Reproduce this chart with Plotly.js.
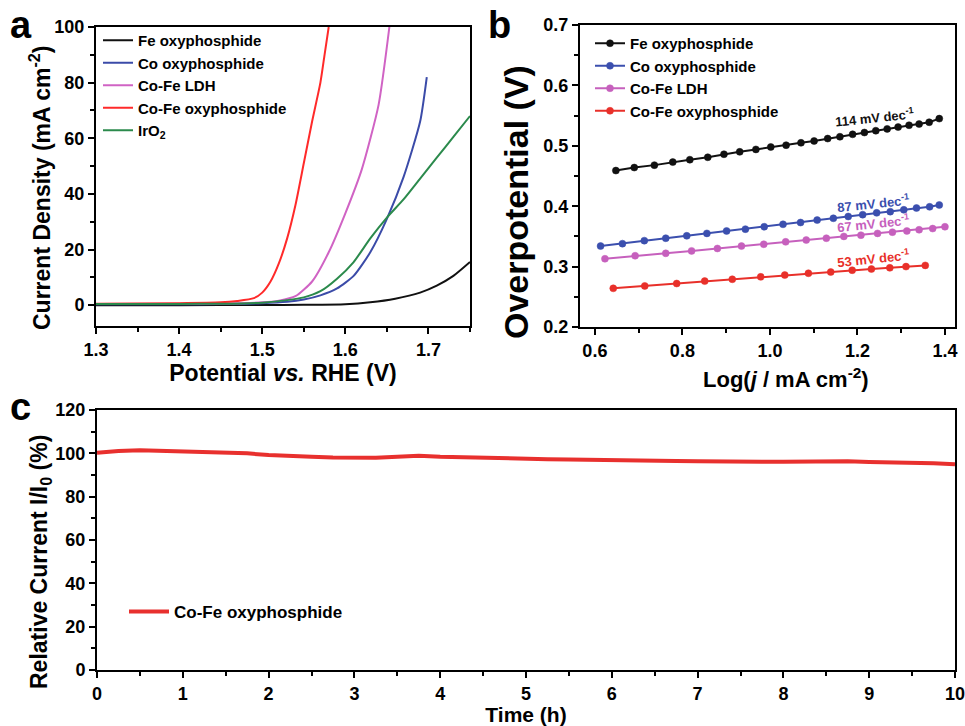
<!DOCTYPE html>
<html>
<head>
<meta charset="utf-8">
<script src="https://cdn.plot.ly/plotly-3.0.1.min.js"></script>
<style>html,body{margin:0;padding:0;background:#fff;}#chart{width:965px;height:726px;}</style>
</head>
<body>
<div id="chart"></div>
<script>
// ---------- Panel a: polarization curves ----------
const feOxyV = [1.30, 1.40, 1.50, 1.55, 1.60, 1.63, 1.66, 1.69, 1.71, 1.73, 1.75];
const feOxyJ = [0.0, 0.0, 0.05, 0.1, 0.3, 1.0, 2.3, 4.5, 7.0, 10.5, 15.5];

const coOxyV = [1.30, 1.40, 1.45, 1.50, 1.53, 1.55, 1.57, 1.59, 1.61, 1.63, 1.65, 1.67, 1.69, 1.698];
const coOxyJ = [0.3, 0.35, 0.4, 0.7, 1.2, 2.0, 3.5, 6.0, 10.5, 19, 31, 46, 66, 82];

const ldhV = [1.30, 1.40, 1.45, 1.50, 1.52, 1.54, 1.56, 1.58, 1.60, 1.62, 1.64, 1.653];
const ldhJ = [0.4, 0.5, 0.6, 1.0, 1.6, 3.2, 8.5, 19, 33, 49, 72, 100];

const cofeOxyV = [1.30, 1.40, 1.45, 1.47, 1.49, 1.50, 1.51, 1.52, 1.53, 1.54, 1.55, 1.56, 1.57, 1.575, 1.58];
const cofeOxyJ = [0.5, 0.7, 1.0, 1.5, 2.5, 4.5, 8.5, 15, 24, 36, 51, 66, 80, 90, 100];

const iro2V = [1.30, 1.40, 1.45, 1.50, 1.53, 1.55, 1.57, 1.59, 1.61, 1.63, 1.65, 1.67, 1.69, 1.71, 1.73, 1.75];
const iro2J = [0.4, 0.45, 0.5, 0.9, 1.8, 2.8, 5.0, 9.5, 15.5, 24, 31.5, 38, 45.5, 53, 60.5, 68];

// ---------- Panel b: Tafel plots ----------
const tafFeX = [0.648,0.690,0.736,0.778,0.817,0.858,0.895,0.931,0.968,1.002,1.037,1.071,1.101,1.132,1.160,1.189,1.216,1.242,1.268,1.293,1.318,1.341,1.364,1.387];
const tafFeY = [0.459,0.464,0.468,0.473,0.477,0.481,0.486,0.490,0.494,0.498,0.501,0.505,0.508,0.512,0.515,0.519,0.522,0.525,0.528,0.531,0.534,0.536,0.539,0.545];

const tafCoX = [0.613,0.663,0.713,0.762,0.810,0.856,0.901,0.944,0.987,1.030,1.070,1.108,1.145,1.179,1.212,1.244,1.275,1.306,1.335,1.365,1.387];
const tafCoY = [0.334,0.338,0.343,0.347,0.351,0.355,0.359,0.362,0.366,0.370,0.373,0.377,0.380,0.383,0.386,0.389,0.391,0.394,0.397,0.399,0.402];

const tafLdhX = [0.623,0.692,0.762,0.821,0.880,0.935,0.986,1.036,1.083,1.129,1.169,1.208,1.246,1.280,1.313,1.341,1.372,1.400];
const tafLdhY = [0.313,0.318,0.322,0.326,0.330,0.334,0.337,0.341,0.344,0.347,0.350,0.352,0.355,0.357,0.359,0.361,0.363,0.366];

const tafCofeX = [0.642,0.714,0.787,0.851,0.914,0.979,1.034,1.088,1.139,1.188,1.232,1.274,1.311,1.355];
const tafCofeY = [0.264,0.268,0.272,0.276,0.279,0.283,0.286,0.289,0.291,0.294,0.296,0.298,0.300,0.302];

const tafelLabels = ["114 mV dec<sup>-1</sup>", "87 mV dec<sup>-1</sup>", "67 mV dec<sup>-1</sup>", "53 mV dec<sup>-1</sup>"];
const tafelLabelX = [1.24, 1.235, 1.235, 1.235];
const tafelLabelY = [0.548, 0.406, 0.373, 0.315];

// ---------- Panel c: stability ----------
const cTime = [0,0.25,0.5,0.75,1,1.25,1.5,1.75,2,2.25,2.5,2.75,3,3.25,3.5,3.75,4,4.25,4.5,4.75,5,5.25,5.5,5.75,6,6.25,6.5,6.75,7,7.25,7.5,7.75,8,8.25,8.5,8.75,9,9.25,9.5,9.75,10];
const cRel = [100.3,101.1,101.4,101.1,100.8,100.2,100.0,100.0,99.2,98.6,98.4,98.1,98.0,98.0,98.4,98.9,98.4,98.1,98.1,97.5,97.4,97.3,97.1,96.9,96.7,96.7,96.6,96.5,96.4,96.2,96.1,96.1,96.1,96.3,96.4,96.3,96.0,95.9,95.7,95.4,95.0];

// ---------- Tick labels ----------
const aXTicks = [1.3, 1.4, 1.5, 1.6, 1.7];
const aXLabels = ["1.3", "1.4", "1.5", "1.6", "1.7"];
const aYTicks = [0, 20, 40, 60, 80, 100];
const aYLabels = ["0", "20", "40", "60", "80", "100"];
const bXTicks = [0.6, 0.8, 1.0, 1.2, 1.4];
const bXLabels = ["0.6", "0.8", "1.0", "1.2", "1.4"];
const bYTicks = [0.2, 0.3, 0.4, 0.5, 0.6, 0.7];
const bYLabels = ["0.2", "0.3", "0.4", "0.5", "0.6", "0.7"];
const cXTicks = [0, 1, 2, 3, 4, 5, 6, 7, 8, 9, 10];
const cXLabels = ["0", "1", "2", "3", "4", "5", "6", "7", "8", "9", "10"];
const cYTicks = [0, 20, 40, 60, 80, 100, 120];
const cYLabels = ["0", "20", "40", "60", "80", "100", "120"];

const names = ["Fe oxyphosphide", "Co oxyphosphide", "Co-Fe LDH", "Co-Fe oxyphosphide", "IrO<sub>2</sub>"];
const colA = ["#111111", "#3b4ba8", "#d063c4", "#ff2a2a", "#2b8a4c"];
const colB = ["#111111", "#3b4fae", "#c660bd", "#e8302a"];
const colC = "#e8302e";

const FONT = "Arial, 'Liberation Sans', sans-serif";

const traces = [];
const aX = [feOxyV, coOxyV, ldhV, cofeOxyV, iro2V];
const aY = [feOxyJ, coOxyJ, ldhJ, cofeOxyJ, iro2J];
for (let i = 0; i < 5; i++) {
  traces.push({x: aX[i], y: aY[i], type: 'scatter', mode: 'lines', name: '<b>' + names[i] + '</b>',
    line: {color: colA[i], width: 2, shape: 'spline', smoothing: 0.6},
    xaxis: 'x', yaxis: 'y', legend: 'legend'});
}
const bX = [tafFeX, tafCoX, tafLdhX, tafCofeX];
const bY = [tafFeY, tafCoY, tafLdhY, tafCofeY];
for (let i = 0; i < 4; i++) {
  traces.push({x: bX[i], y: bY[i], type: 'scatter', mode: 'lines+markers', name: '<b>' + names[i] + '</b>',
    line: {color: colB[i], width: 2},
    marker: {color: colB[i], size: 7, line: {color: colB[i], width: 0.5}},
    xaxis: 'x2', yaxis: 'y2', legend: 'legend2'});
}
traces.push({x: cTime, y: cRel, type: 'scatter', mode: 'lines', name: '<b>Co-Fe oxyphosphide</b>',
  line: {color: colC, width: 4}, xaxis: 'x3', yaxis: 'y3', legend: 'legend3'});

const bold = arr => arr.map(s => '<b>' + s + '</b>');

function ax(extra) {
  return Object.assign({
    showline: true, linecolor: 'black', linewidth: 2, mirror: true,
    ticks: 'outside', ticklen: 6, tickwidth: 2, tickcolor: 'black',
    showgrid: false, zeroline: false, tickmode: 'array', ticklabeloverflow: 'allow',
    tickfont: {family: FONT, size: 18, color: 'black', weight: 'bold'}
  }, extra);
}
function minor(t0, d) {
  return {tickmode: 'linear', tick0: t0, dtick: d, ticks: 'outside', ticklen: 4, tickwidth: 2, tickcolor: 'black', showgrid: false};
}
function ttl(text, size, standoff) {
  return {text: '<b>' + text + '</b>', standoff: standoff, font: {family: FONT, size: size, color: 'black'}};
}
const W = 965, H = 726;
const px = v => v / W, py = v => 1 - v / H;

function label(text, x, y, size, angle) {
  return {text: '<b>' + text + '</b>', xref: 'paper', yref: 'paper', x: px(x), y: py(y),
    xanchor: 'center', yanchor: 'middle', showarrow: false, textangle: angle,
    font: {family: FONT, size: size, color: 'black'}};
}

const annotations = [
  {text: '<b>a</b>', xref: 'paper', yref: 'paper', x: px(8), y: py(2), xanchor: 'left', yanchor: 'top', showarrow: false,
   font: {family: FONT, size: 38, color: 'black'}},
  {text: '<b>b</b>', xref: 'paper', yref: 'paper', x: px(486), y: py(2), xanchor: 'left', yanchor: 'top', showarrow: false,
   font: {family: FONT, size: 38, color: 'black'}},
  {text: '<b>c</b>', xref: 'paper', yref: 'paper', x: px(8), y: py(384), xanchor: 'left', yanchor: 'top', showarrow: false,
   font: {family: FONT, size: 38, color: 'black'}},
  label('Log(<i>j</i> / mA cm<sup>-2</sup>)', 786, 378, 22, 0),
  label('Current Density (mA cm<sup>-2</sup>)', 40, 188, 23, -90),
  label('Overpotential (V)', 516, 202, 34, -90),
  label('Relative Current I/I<sub>0</sub> (%)', 40, 562, 23, -90)
];
for (let i = 0; i < 4; i++) {
  annotations.push({text: '<b>' + tafelLabels[i] + '</b>', xref: 'x2', yref: 'y2', x: tafelLabelX[i], y: tafelLabelY[i],
    showarrow: false, textangle: -6, font: {family: FONT, size: 13, color: colB[i]}});
}

const layout = {
  width: W, height: H,
  margin: {l: 0, r: 0, t: 0, b: 0},
  paper_bgcolor: 'white', plot_bgcolor: 'white',
  font: {family: FONT, color: 'black'},
  showlegend: true,
  xaxis: ax({domain: [px(96), px(470)], anchor: 'y', range: [1.3, 1.75],
    tickvals: aXTicks, ticktext: bold(aXLabels), minor: minor(1.3, 0.05),
    title: ttl('Potential <i>vs.</i> RHE (V)', 23, 5)}),
  yaxis: ax({domain: [py(326), py(27)], anchor: 'x', range: [-7.5, 100],
    tickvals: aYTicks, ticktext: bold(aYLabels), minor: minor(0, 10)}),
  xaxis2: ax({domain: [px(580), px(955)], anchor: 'y2', range: [0.566, 1.423],
    tickvals: bXTicks, ticktext: bold(bXLabels), minor: minor(0.6, 0.1)}),
  yaxis2: ax({domain: [py(327), py(25)], anchor: 'x2', range: [0.2, 0.7],
    tickvals: bYTicks, ticktext: bold(bYLabels), minor: minor(0.2, 0.05)}),
  xaxis3: ax({domain: [px(97), px(955)], anchor: 'y3', range: [0, 10],
    tickvals: cXTicks, ticktext: bold(cXLabels), minor: minor(0, 0.5),
    title: ttl('Time (h)', 21, 3)}),
  yaxis3: ax({domain: [py(670), py(410)], anchor: 'x3', range: [0, 120],
    tickvals: cYTicks, ticktext: bold(cYLabels), minor: minor(0, 10)}),
  legend: {x: px(98), y: py(24), xanchor: 'left', yanchor: 'top', bgcolor: 'rgba(0,0,0,0)',
    font: {family: FONT, size: 15, color: 'black'}, itemwidth: 30, tracegroupgap: 0},
  legend2: {x: px(590), y: py(27), xanchor: 'left', yanchor: 'top', bgcolor: 'rgba(0,0,0,0)',
    font: {family: FONT, size: 15, color: 'black'}, itemwidth: 30, tracegroupgap: 0},
  legend3: {x: px(124), y: py(594), xanchor: 'left', yanchor: 'top', bgcolor: 'rgba(0,0,0,0)',
    font: {family: FONT, size: 17, color: 'black'}, itemwidth: 40},
  annotations: annotations
};

Plotly.newPlot('chart', traces, layout, {staticPlot: true, displayModeBar: false});
</script>
</body>
</html>
